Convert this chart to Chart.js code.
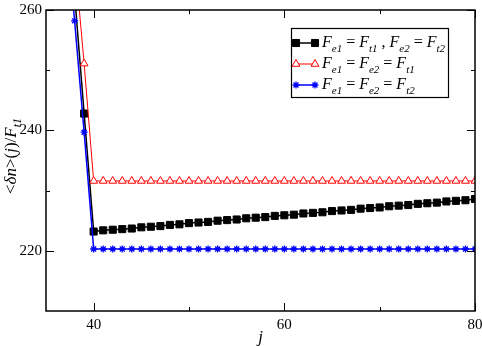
<!DOCTYPE html>
<html>
<head>
<meta charset="utf-8">
<script src="https://cdn.jsdelivr.net/npm/chart.js@4"></script>
<style>
    html, body {margin: 0; padding: 0; background: #fff;}
    #wrap {width: 482px; height: 346px;}
</style>
</head>
<body>
<div id="wrap"><canvas id="popChart" width="482" height="346"></canvas></div>
<script>
// j values 37..80
let jValues = [37, 38, 39, 40, 41, 42, 43, 44, 45, 46, 47, 48, 49, 50, 51, 52, 53, 54, 55, 56, 57, 58, 59, 60,
    61, 62, 63, 64, 65, 66, 67, 68, 69, 70, 71, 72, 73, 74, 75, 76, 77, 78, 79, 80]

let blackValues = [280, 262.5, 242.8, 223.2, 223.4, 223.5, 223.6, 223.7, 223.9, 224.0, 224.1, 224.3, 224.4, 224.6,
    224.7, 224.8, 225.0, 225.1, 225.2, 225.4, 225.5, 225.6, 225.8, 225.9, 226.0, 226.2, 226.3, 226.4, 226.6,
    226.7, 226.8, 227.0, 227.1, 227.2, 227.4, 227.5, 227.6, 227.8, 227.9, 228.0, 228.2, 228.3, 228.4, 228.6]

let redValues = [285, 268.9, 251.1, 231.6, 231.6, 231.6, 231.6, 231.6, 231.6, 231.6, 231.6, 231.6, 231.6, 231.6,
    231.6, 231.6, 231.6, 231.6, 231.6, 231.6, 231.6, 231.6, 231.6, 231.6, 231.6, 231.6, 231.6, 231.6, 231.6,
    231.6, 231.6, 231.6, 231.6, 231.6, 231.6, 231.6, 231.6, 231.6, 231.6, 231.6, 231.6, 231.6, 231.6, 231.6]

let blueValues = [276, 258.2, 239.7, 220.3, 220.3, 220.3, 220.3, 220.3, 220.3, 220.3, 220.3, 220.3, 220.3, 220.3,
    220.3, 220.3, 220.3, 220.3, 220.3, 220.3, 220.3, 220.3, 220.3, 220.3, 220.3, 220.3, 220.3, 220.3, 220.3,
    220.3, 220.3, 220.3, 220.3, 220.3, 220.3, 220.3, 220.3, 220.3, 220.3, 220.3, 220.3, 220.3, 220.3, 220.3]

let seriesLabels = ['F_{e1} = F_{t1} , F_{e2} = F_{t2}', 'F_{e1} = F_{e2} = F_{t1}', 'F_{e1} = F_{e2} = F_{t2}']

let xMajor = [40, 60, 80]
let xMinor = [50, 70]
let yMajor = [220, 240, 260]
let yMinor = [230, 250]

const SERIF = '"Liberation Serif", "DejaVu Serif", serif'

function toPoints(values) {
    return values.map((v, i) => ({x: jValues[i], y: v}))
}

// draws "F_{e1} = ..." with italic F and small subscripts
function drawMath(ctx, str, x, y, size) {
    let parts = str.split(/(F_\{[^}]+\})/).filter(p => p.length)
    for (let p of parts) {
        let m = p.match(/^F_\{([^}]+)\}$/)
        if (m) {
            ctx.font = `italic ${size}px ${SERIF}`
            ctx.fillText('F', x, y)
            x += ctx.measureText('F').width
            ctx.font = `italic ${Math.round(size * 0.68)}px ${SERIF}`
            ctx.fillText(m[1], x, y + size * 0.3)
            x += ctx.measureText(m[1]).width
        } else {
            ctx.font = `${size}px ${SERIF}`
            ctx.fillText(p, x, y)
            x += ctx.measureText(p).width
        }
    }
    return x
}

const framePlugin = {
    id: 'frame',
    afterDraw(chart) {
        let ctx = chart.ctx
        let a = chart.chartArea
        let xs = chart.scales.x
        let ys = chart.scales.y
        ctx.save()
        ctx.strokeStyle = '#000'
        ctx.lineWidth = 1.5
        ctx.strokeRect(a.left, a.top, a.right - a.left, a.bottom - a.top)

        ctx.lineWidth = 1
        ctx.beginPath()
        for (let v of xMajor.concat(xMinor)) {
            let len = xMajor.includes(v) ? 8 : 4
            let px = Math.round(xs.getPixelForValue(v)) + 0.5
            ctx.moveTo(px, a.bottom); ctx.lineTo(px, a.bottom - len)
            ctx.moveTo(px, a.top); ctx.lineTo(px, a.top + len)
        }
        for (let v of yMajor.concat(yMinor)) {
            let len = yMajor.includes(v) ? 8 : 4
            let py = Math.round(ys.getPixelForValue(v)) + 0.5
            ctx.moveTo(a.left, py); ctx.lineTo(a.left + len, py)
            ctx.moveTo(a.right, py); ctx.lineTo(a.right - len, py)
        }
        ctx.stroke()

        // x title
        ctx.fillStyle = '#000'
        ctx.textBaseline = 'alphabetic'
        ctx.font = `italic 17px ${SERIF}`
        ctx.textAlign = 'center'
        ctx.fillText('j', (a.left + a.right) / 2, 342)

        // y title, rotated
        ctx.textAlign = 'left'
        ctx.save()
        ctx.translate(16, 156)
        ctx.rotate(-Math.PI / 2)
        let pieces = [['<', ''], ['δn', 'italic '], ['>(', ''], ['j', 'italic '], [')/', ''], ['F', 'italic ']]
        let size = 17
        let w = 0
        for (let p of pieces) { ctx.font = `${p[1]}${size}px ${SERIF}`; w += ctx.measureText(p[0]).width }
        ctx.font = `italic 12px ${SERIF}`
        w += ctx.measureText('t1').width
        let x = -w / 2
        for (let p of pieces) {
            ctx.font = `${p[1]}${size}px ${SERIF}`
            ctx.fillText(p[0], x, 0)
            x += ctx.measureText(p[0]).width
        }
        ctx.font = `italic 12px ${SERIF}`
        ctx.fillText('t1', x, 5)
        ctx.restore()

        // legend
        let lx = 291, ly = 28, lw = 157, lh = 69
        ctx.fillStyle = '#fff'
        ctx.fillRect(lx, ly, lw, lh)
        ctx.strokeStyle = '#000'
        ctx.lineWidth = 1.2
        ctx.strokeRect(lx + 0.5, ly + 0.5, lw, lh)
        let rowsY = [43, 64, 85]
        chart.data.datasets.forEach((ds, i) => {
            let ry = rowsY[i]
            ctx.strokeStyle = ds.borderColor
            ctx.lineWidth = ds.borderWidth
            ctx.beginPath()
            ctx.moveTo(296, ry); ctx.lineTo(315, ry)
            ctx.stroke()
            ctx.fillStyle = ds.pointBackgroundColor
            ctx.strokeStyle = ds.pointBorderColor
            let opt = {pointStyle: ds.pointStyle, radius: ds.pointRadius, borderWidth: ds.pointBorderWidth, rotation: 0}
            ctx.lineWidth = ds.pointBorderWidth
            Chart.helpers.drawPoint(ctx, opt, 296, ry)
            Chart.helpers.drawPoint(ctx, opt, 315, ry)
            ctx.fillStyle = '#000'
            drawMath(ctx, ds.label, 322, ry + 4, 16)
        })
        ctx.restore()
    }
}

const config = {
    type: 'line',
    data: {
        datasets: [
            {
                label: seriesLabels[0],
                data: toPoints(blackValues),
                borderColor: '#000000',
                borderWidth: 1.5,
                pointStyle: 'rect',
                pointRadius: 5,
                pointBorderWidth: 1,
                pointBackgroundColor: '#000000',
                pointBorderColor: '#000000',
                order: 2
            },
            {
                label: seriesLabels[1],
                data: toPoints(redValues),
                borderColor: '#ff0000',
                borderWidth: 1,
                pointStyle: 'triangle',
                pointRadius: 4.5,
                pointBorderWidth: 1,
                pointBackgroundColor: '#ffffff',
                pointBorderColor: '#ff0000',
                order: 1
            },
            {
                label: seriesLabels[2],
                data: toPoints(blueValues),
                borderColor: '#0000ff',
                borderWidth: 1.5,
                pointStyle: 'star',
                pointRadius: 3.5,
                pointBorderWidth: 1.3,
                pointBackgroundColor: '#0000ff',
                pointBorderColor: '#0000ff',
                order: 0
            }
        ]
    },
    options: {
        animation: {duration: 0},
        responsive: false,
        devicePixelRatio: 1,
        layout: {padding: {top: 10, right: 7, left: 0, bottom: 0}},
        plugins: {
            legend: {display: false},
            tooltip: {enabled: false}
        },
        elements: {line: {tension: 0}},
        scales: {
            x: {
                type: 'linear',
                min: 35,
                max: 80,
                afterBuildTicks: s => { s.ticks = xMajor.map(v => ({value: v})) },
                afterFit: s => { s.height = 35; s.paddingLeft = 0; s.paddingRight = 0 },
                grid: {display: false, drawTicks: false},
                border: {display: false},
                ticks: {
                    padding: 5,
                    color: '#000',
                    font: {family: SERIF, size: 15},
                    maxRotation: 0
                }
            },
            y: {
                type: 'linear',
                min: 210,
                max: 260,
                afterBuildTicks: s => { s.ticks = yMajor.map(v => ({value: v})) },
                afterFit: s => { s.width = 46; s.paddingTop = 0; s.paddingBottom = 0 },
                grid: {display: false, drawTicks: false},
                border: {display: false},
                ticks: {
                    padding: 4,
                    color: '#000',
                    font: {family: SERIF, size: 15}
                }
            }
        }
    },
    plugins: [framePlugin]
}

let popCanvas = document.getElementById('popChart').getContext('2d')
let lineChart = new Chart(popCanvas, config)
</script>
</body>
</html>
